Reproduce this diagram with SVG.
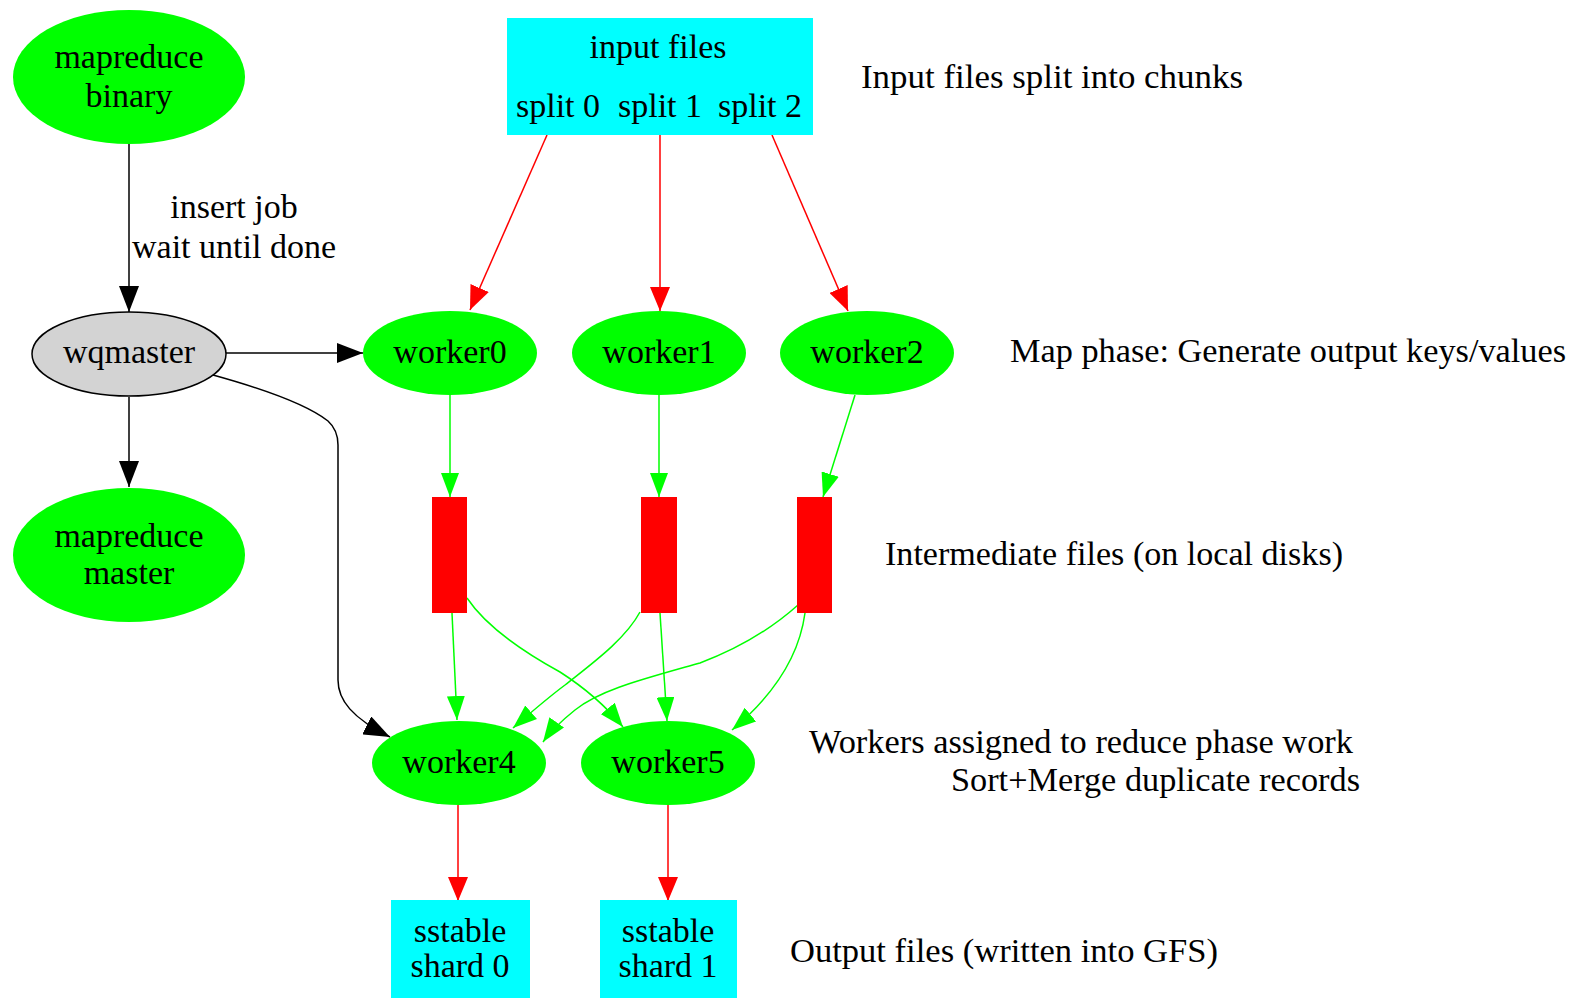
<svg xmlns="http://www.w3.org/2000/svg" width="1575" height="998" viewBox="0 0 1575 998">
<style>
text{font-family:"Liberation Serif","Times New Roman",serif;font-size:34px;fill:#000}
.c{text-anchor:middle}
.g{fill:#00ff00}
.cy{fill:#00ffff}
.rd{fill:#ff0000}
.e{fill:none;stroke-width:1.5}
.k{stroke:#000}
.r{stroke:#ff0000}
.n{stroke:#00ff00}
</style>
<defs>
<marker id="ak" markerUnits="userSpaceOnUse" markerWidth="26" markerHeight="20" viewBox="0 0 26 20" refX="26" refY="10" orient="auto"><path d="M0,0 L26,10 L0,20 Z" fill="#000"/></marker>
<marker id="ar" markerUnits="userSpaceOnUse" markerWidth="24" markerHeight="20" viewBox="0 0 24 20" refX="24" refY="10" orient="auto"><path d="M0,0 L24,10 L0,20 Z" fill="#ff0000"/></marker>
<marker id="ag" markerUnits="userSpaceOnUse" markerWidth="24" markerHeight="18" viewBox="0 0 24 18" refX="24" refY="9" orient="auto"><path d="M0,0 L24,9 L0,18 Z" fill="#00ff00"/></marker>
</defs>
<rect width="1575" height="998" fill="#fff"/>
<g id="connectors">
<path class="e k" d="M129,144 L129,312" marker-end="url(#ak)"/>
<path class="e k" d="M226,353 L363,353" marker-end="url(#ak)"/>
<path class="e k" d="M129,397 L129,487" marker-end="url(#ak)"/>
<path class="e k" d="M213,375 C260,388 305,403 328,421 Q338,430 338,445 L338,680 C338,700 352,718 390,737" marker-end="url(#ak)"/>
<path class="e r" d="M547,135 L470,310" marker-end="url(#ar)"/>
<path class="e r" d="M660,135 L660,311" marker-end="url(#ar)"/>
<path class="e r" d="M772,135 L848,311" marker-end="url(#ar)"/>
<path class="e r" d="M458,805 L458,901" marker-end="url(#ar)"/>
<path class="e r" d="M668,805 L668,901" marker-end="url(#ar)"/>
<path class="e n" d="M450,395 L450,497" marker-end="url(#ag)"/>
<path class="e n" d="M659,395 L659,497" marker-end="url(#ag)"/>
<path class="e n" d="M855,395 L823,497" marker-end="url(#ag)"/>
<path class="e n" d="M452,613 L457,720" marker-end="url(#ag)"/>
<path class="e n" d="M467,598 C485,625 520,650 560,672 C585,688 605,705 623,727" marker-end="url(#ag)"/>
<path class="e n" d="M640,612 C625,640 590,665 565,685 C545,700 528,715 513,728" marker-end="url(#ag)"/>
<path class="e n" d="M660,613 L667,721" marker-end="url(#ag)"/>
<path class="e n" d="M798,605 C770,630 740,648 700,663 C640,680 600,690 575,710 C560,722 550,732 543,742" marker-end="url(#ag)"/>
<path class="e n" d="M805,613 C800,650 780,690 732,730" marker-end="url(#ag)"/>
</g>
<g id="mapreduce_binary"><ellipse class="g" cx="129" cy="77" rx="116" ry="67"/><text class="c" x="129" y="68">mapreduce</text><text class="c" x="129" y="107">binary</text></g>
<g id="edge_label"><text class="c" x="234" y="218">insert job</text><text class="c" x="234" y="258">wait until done</text></g>
<g id="input_files"><rect class="cy" x="507" y="18" width="306" height="117"/><text class="c" x="658" y="58">input files</text><text class="c" x="558" y="117">split 0</text><text class="c" x="660" y="117">split 1</text><text class="c" x="760" y="117">split 2</text></g>
<g id="wqmaster"><ellipse cx="129" cy="354" rx="97" ry="42" fill="#d3d3d3" stroke="#000" stroke-width="1.5"/><text class="c" x="129" y="363">wqmaster</text></g>
<g id="worker0"><ellipse class="g" cx="450" cy="353" rx="87" ry="42"/><text class="c" x="450" y="363">worker0</text></g>
<g id="worker1"><ellipse class="g" cx="659" cy="353" rx="87" ry="42"/><text class="c" x="659" y="363">worker1</text></g>
<g id="worker2"><ellipse class="g" cx="867" cy="353" rx="87" ry="42"/><text class="c" x="867" y="363">worker2</text></g>
<g id="mapreduce_master"><ellipse class="g" cx="129" cy="555" rx="116" ry="67"/><text class="c" x="129" y="547">mapreduce</text><text class="c" x="129" y="584">master</text></g>
<g id="inter0"><rect class="rd" x="432" y="497" width="35" height="116"/></g>
<g id="inter1"><rect class="rd" x="641" y="497" width="36" height="116"/></g>
<g id="inter2"><rect class="rd" x="797" y="497" width="35" height="116"/></g>
<g id="worker4"><ellipse class="g" cx="459" cy="763" rx="87" ry="42"/><text class="c" x="459" y="773">worker4</text></g>
<g id="worker5"><ellipse class="g" cx="668" cy="763" rx="87" ry="42"/><text class="c" x="668" y="773">worker5</text></g>
<g id="shard0"><rect class="cy" x="391" y="900" width="139" height="100"/><text class="c" x="460" y="942">sstable</text><text class="c" x="460" y="977">shard 0</text></g>
<g id="shard1"><rect class="cy" x="600" y="900" width="137" height="100"/><text class="c" x="668" y="942">sstable</text><text class="c" x="668" y="977">shard 1</text></g>
<g id="labels">
<text x="861" y="88" textLength="382" lengthAdjust="spacingAndGlyphs">Input files split into chunks</text>
<text x="1010" y="362" textLength="556" lengthAdjust="spacingAndGlyphs">Map phase: Generate output keys/values</text>
<text x="885" y="565" textLength="458" lengthAdjust="spacingAndGlyphs">Intermediate files (on local disks)</text>
<text x="809" y="753" textLength="544" lengthAdjust="spacingAndGlyphs">Workers assigned to reduce phase work</text>
<text x="951" y="791" textLength="409" lengthAdjust="spacingAndGlyphs">Sort+Merge duplicate records</text>
<text x="790" y="962" textLength="428" lengthAdjust="spacingAndGlyphs">Output files (written into GFS)</text>
</g>
</svg>
